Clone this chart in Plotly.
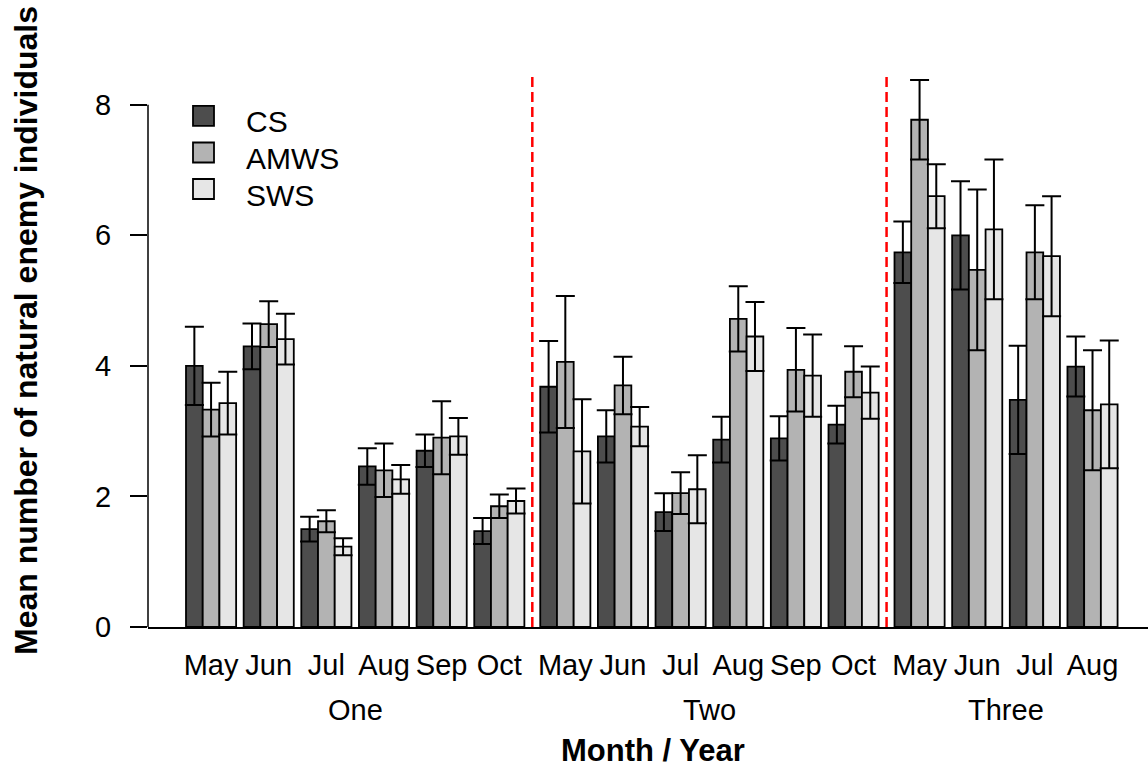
import plotly.graph_objects as go

# ---------------- data ----------------
months = ["May", "Jun", "Jul", "Aug", "Sep", "Oct",
          "May", "Jun", "Jul", "Aug", "Sep", "Oct",
          "May", "Jun", "Jul", "Aug"]
years = ["One"] * 6 + ["Two"] * 6 + ["Three"] * 4
year_names = ["One", "Two", "Three"]

series_names = ["CS", "AMWS", "SWS"]
cs_mean = [4.00, 4.30, 1.50, 2.46, 2.70, 1.47, 3.68, 2.92, 1.76, 2.87, 2.89, 3.10, 5.74, 6.00, 3.48, 3.99]
cs_se = [0.60, 0.35, 0.19, 0.28, 0.25, 0.20, 0.70, 0.40, 0.29, 0.35, 0.34, 0.29, 0.47, 0.83, 0.83, 0.46]
amws_mean = [3.33, 4.64, 1.62, 2.40, 2.90, 1.85, 4.06, 3.70, 2.05, 4.72, 3.94, 3.91, 7.77, 5.47, 5.74, 3.32]
amws_se = [0.41, 0.35, 0.17, 0.41, 0.56, 0.18, 1.01, 0.44, 0.32, 0.50, 0.64, 0.39, 0.61, 1.23, 0.72, 0.92]
sws_mean = [3.43, 4.41, 1.23, 2.26, 2.92, 1.93, 2.69, 3.07, 2.11, 4.45, 3.85, 3.59, 6.60, 6.09, 5.68, 3.41]
sws_se = [0.48, 0.39, 0.13, 0.22, 0.28, 0.19, 0.80, 0.30, 0.52, 0.53, 0.63, 0.40, 0.49, 1.07, 0.92, 0.98]

y_ticks = [0, 2, 4, 6, 8]

# ---------------- styling / layout ----------------
colors = ["#4d4d4d", "#b3b3b3", "#e6e6e6"]
FONT = "Liberation Sans, Arial, sans-serif"
W, H = 1148, 769
ML, MR, MT, MB = 148, 0, 46, 142
PW, PH = W - ML - MR, H - MT - MB

GAP_IN = 0.45   # gap between month groups (bar units)
GAP_YR = 0.95   # gap between years (bar units)

# group start positions (in bar-width units)
starts = []
pos = 0.0
for i in range(len(months)):
    if i > 0:
        pos += 3 + (GAP_YR if years[i] != years[i - 1] else GAP_IN)
    starts.append(pos)
centers = [s + 1.5 for s in starts]

def px_x(p):
    return (p - ML) / PW

def px_y(p):
    return (H - MB - p) / PH

fig = go.Figure()
means = [cs_mean, amws_mean, sws_mean]
ses = [cs_se, amws_se, sws_se]
for j, name in enumerate(series_names):
    fig.add_trace(go.Bar(
        name=name,
        x=[s + j + 0.5 for s in starts],
        y=means[j],
        width=1.0,
        marker=dict(color=colors[j], line=dict(color="black", width=1.8)),
        error_y=dict(type="data", array=ses[j], symmetric=True,
                     color="black", thickness=2, width=9.5),
        showlegend=False,
    ))

shapes = []
annotations = []

# y axis line from 0 to 8
shapes.append(dict(type="line", xref="paper", yref="y", x0=0, x1=0, y0=0, y1=8,
                   line=dict(color="black", width=1.5)))

# red dashed year separators (midpoint of year gaps)
for i in range(1, len(months)):
    if years[i] != years[i - 1]:
        xm = (starts[i - 1] + 3 + starts[i]) / 2
        shapes.append(dict(type="line", xref="x", yref="y", x0=xm, x1=xm, y0=0, y1=8.5,
                           line=dict(color="red", width=2.5, dash="10px,5px")))

# year labels
for yn in year_names:
    idx = [i for i, y in enumerate(years) if y == yn]
    xc = (starts[idx[0]] + starts[idx[-1]] + 3) / 2
    annotations.append(dict(text=yn, x=xc, xref="x", y=px_y(710), yref="paper",
                            showarrow=False, xanchor="center", yanchor="middle",
                            font=dict(family=FONT, size=29, color="black")))

# axis titles
annotations.append(dict(text="<b>Month / Year</b>", x=px_x(652.5), xref="paper",
                        y=px_y(750), yref="paper", showarrow=False,
                        xanchor="center", yanchor="middle",
                        font=dict(family=FONT, size=31, color="black")))
annotations.append(dict(text="<b>Mean number of natural enemy individuals</b>",
                        x=px_x(26), xref="paper", y=px_y(331), yref="paper",
                        textangle=-90, showarrow=False, xanchor="center", yanchor="middle",
                        font=dict(family=FONT, size=32, color="black")))

# legend (manual, to match large boxes)
leg_box_cy = [115.8, 152.5, 189.0]
for j, name in enumerate(series_names):
    cy = leg_box_cy[j]
    shapes.append(dict(type="rect", xref="paper", yref="paper",
                       x0=px_x(193), x1=px_x(214), y0=px_y(cy + 10), y1=px_y(cy - 10),
                       fillcolor=colors[j], line=dict(color="black", width=1.8)))
    annotations.append(dict(text=name, x=px_x(244), xref="paper", y=px_y(cy + 6),
                            yref="paper", showarrow=False, xanchor="left", yanchor="middle",
                            font=dict(family=FONT, size=30, color="black")))

fig.update_layout(
    width=W, height=H, autosize=False,
    margin=dict(l=ML, r=MR, t=MT, b=MB, pad=0),
    paper_bgcolor="white", plot_bgcolor="white",
    barmode="overlay",
    shapes=shapes, annotations=annotations,
    xaxis=dict(range=[(ML - 186) / 16.71, (W - 186) / 16.71],
               showgrid=False, zeroline=False, showline=True, linecolor="black", linewidth=2,
               ticks="", tickvals=centers, ticktext=months, ticklabelstandoff=11,
               tickfont=dict(family=FONT, size=29, color="black")),
    yaxis=dict(range=[0, 8.9], tickvals=y_ticks, ticktext=[str(v) for v in y_ticks],
               showgrid=False, zeroline=False, showline=False,
               ticks="outside", ticklen=17, tickwidth=1.5, tickcolor="black",
               ticklabelstandoff=13,
               tickfont=dict(family=FONT, size=29, color="black")),
    font=dict(family=FONT, color="black"),
)

fig.write_html("out.html", config={"displayModeBar": False},
               post_script="document.body.style.margin='0';")
